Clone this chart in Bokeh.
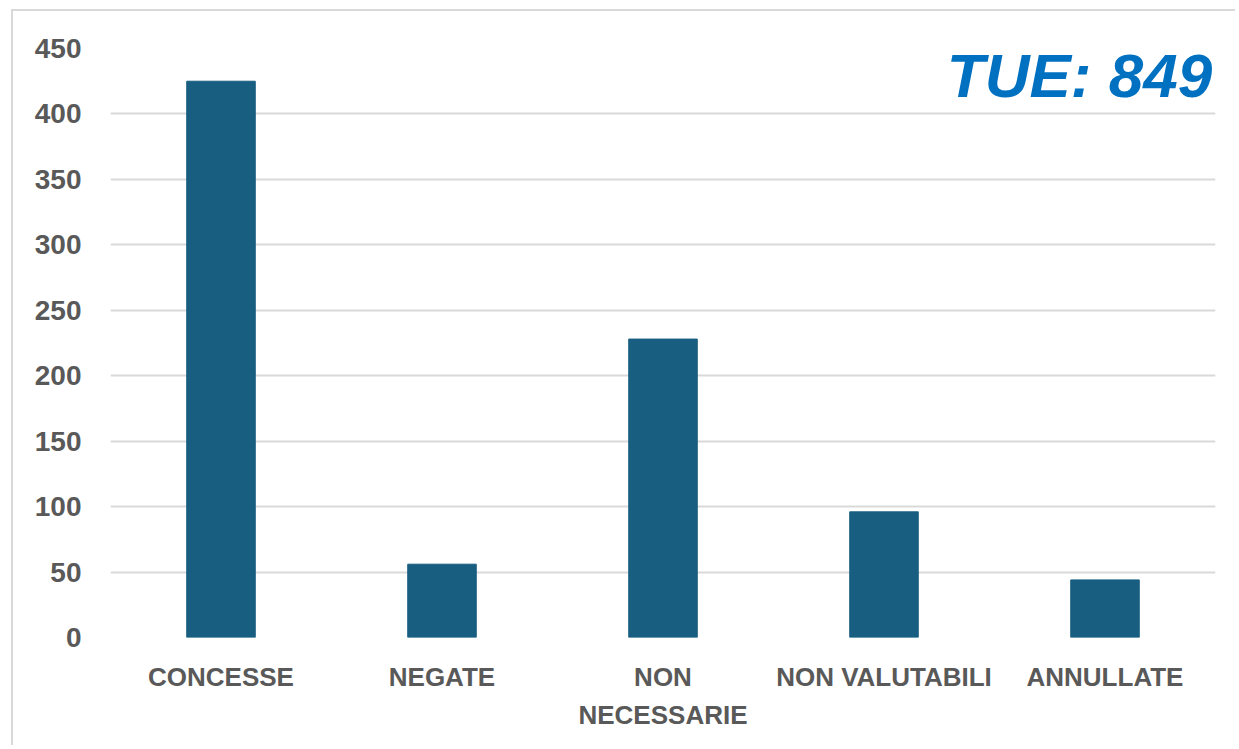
from bokeh.plotting import figure
from bokeh.models import FixedTicker, Label, ColumnDataSource
from bokeh.embed import file_html
from bokeh.resources import INLINE

categories = ["CONCESSE", "NEGATE", "NON\nNECESSARIE", "NON VALUTABILI", "ANNULLATE"]
values = [425, 56, 228, 96, 44]
y_ticks = [0, 50, 100, 150, 200, 250, 300, 350, 400, 450]
total_label = "TUE: 849"

source = ColumnDataSource(dict(cat=categories, val=values))

p = figure(x_range=categories, y_range=(0, 450), width=1224, height=736,
           output_backend="svg", toolbar_location=None,
           min_border_left=97, min_border_right=22, min_border_top=37, min_border_bottom=110)
p.styles = {"border-left": "2px solid #d9d9d9", "border-top": "2px solid #d9d9d9",
            "margin-left": "11px", "margin-top": "9px"}
p.x_range.range_padding = 0
p.outline_line_color = None
p.background_fill_color = "white"
p.border_fill_color = "white"

p.vbar(x="cat", top="val", width=0.31, source=source, color="#185e80")

p.xgrid.grid_line_color = None
p.ygrid.grid_line_color = "#d9d9d9"
p.ygrid.grid_line_width = 2
p.yaxis.ticker = FixedTicker(ticks=y_ticks)

for ax in (p.xaxis, p.yaxis):
    ax.axis_line_color = None
    ax.major_tick_line_color = None
    ax.minor_tick_line_color = None
    ax.major_label_text_font = "Liberation Sans"
    ax.major_label_text_font_style = "bold"
    ax.major_label_text_color = "#595959"

p.xaxis.major_label_text_font_size = "26px"
p.yaxis.major_label_text_font_size = "28px"
p.yaxis.major_label_standoff = 23
p.xaxis.major_label_standoff = 18
p.xaxis.major_label_text_line_height = 1.28

p.add_layout(Label(x=4.985, y=429, text=total_label, text_align="right",
                   text_baseline="alphabetic", text_font="Liberation Sans",
                   text_font_style="bold italic", text_font_size="62px",
                   text_color="#0070c0"))

open("out.html", "w").write(file_html(p, INLINE))
